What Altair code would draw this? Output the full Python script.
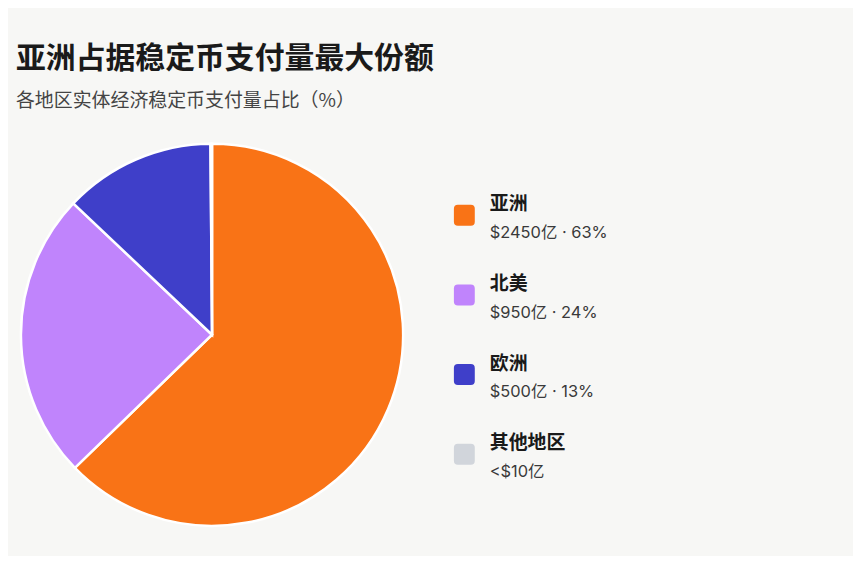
import altair as alt
import pandas as pd

# Data
regions = ["亚洲", "北美", "欧洲", "其他地区"]
amounts = [2450, 950, 500, 5]          # 亿美元 (其他地区 < 10亿)
value_labels = ["$2450亿 · 63%", "$950亿 · 24%", "$500亿 · 13%", "<$10亿"]
colors = ["#F97316", "#C084FC", "#3F3FC9", "#D1D5DB"]

title_text = "亚洲占据稳定币支付量最大份额"
subtitle_text = "各地区实体经济稳定币支付量占比（%）"

df = pd.DataFrame({
    "region": regions,
    "amount": amounts,
    "label": value_labels,
    "idx": list(range(len(regions))),
})

FONT = "Noto Sans CJK SC"
VFONT = "Inter, 'Noto Sans CJK SC'"
color_scale = alt.Scale(domain=regions, range=colors)

pie = alt.Chart(df).mark_arc(radius=192, stroke="white", strokeWidth=2.5).encode(
    theta=alt.Theta("amount:Q", stack=True),
    color=alt.Color("region:N", scale=color_scale, legend=None),
    order=alt.Order("idx:Q"),
).properties(width=390, height=384)

rounded_square = (
    "M -0.62,-1 H 0.62 Q 1,-1 1,-0.62 V 0.62 Q 1,1 0.62,1 H -0.62 "
    "Q -1,1 -1,0.62 V -0.62 Q -1,-1 -0.62,-1 Z"
)

ysc = alt.Scale(domain=regions, padding=0.9)
base = alt.Chart(df).encode(
    y=alt.Y("region:N", scale=ysc, axis=None, sort=regions)
)

squares = base.mark_point(
    shape=rounded_square, filled=True, size=441, opacity=1, strokeWidth=0
).encode(
    x=alt.value(20.5),
    color=alt.Color("region:N", scale=color_scale, legend=None),
)

names = base.mark_text(
    align="left", baseline="middle", font=FONT, fontSize=19,
    fontWeight="bold", color="#1a1a1a", dy=-11
).encode(x=alt.value(46), text="region:N")

values = base.mark_text(
    align="left", baseline="middle", font=VFONT, fontSize=16.5,
    color="#3a3a3a", dy=18
).encode(x=alt.value(46), text="label:N")

legend = alt.layer(squares, names, values).properties(width=403, height=384)

chart = alt.hconcat(pie, legend, spacing=36).properties(
    title=alt.Title(
        text=title_text,
        subtitle=subtitle_text,
        anchor="start",
        font=FONT,
        fontSize=30,
        fontWeight="bold",
        color="#1a1a1a",
        subtitleFont=FONT,
        subtitleFontSize=19,
        subtitleColor="#444444",
        subtitlePadding=18,
        offset=28,
    ),
    padding={"left": 8, "top": 35, "right": 8, "bottom": 24},
    background="#F7F7F5",
).configure_view(stroke=None)

chart.save("out.html", embed_options={"renderer": "svg", "actions": False})
